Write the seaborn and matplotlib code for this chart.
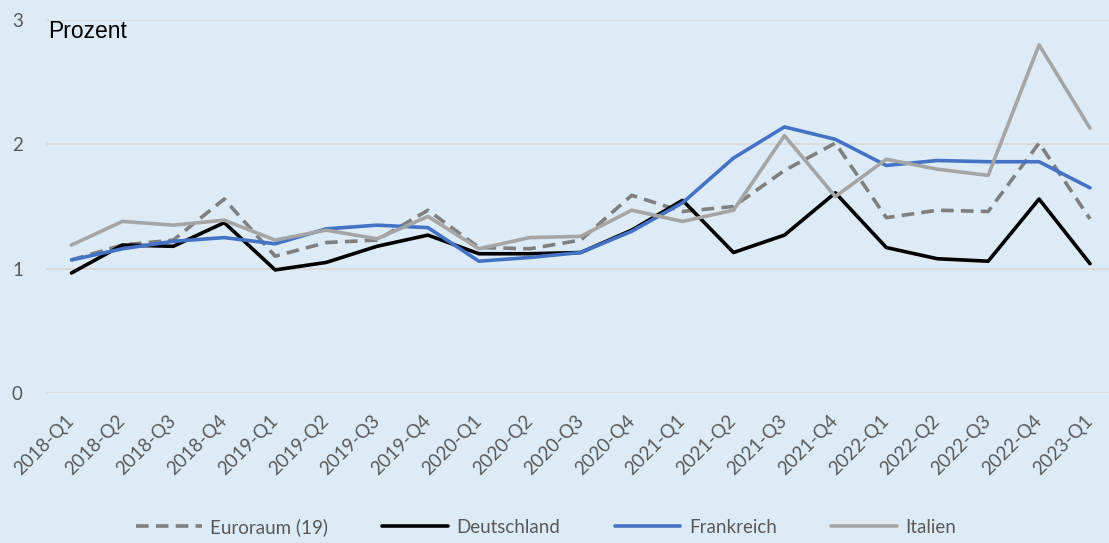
import numpy as np
import pandas as pd
import matplotlib
matplotlib.use("Agg")
import matplotlib.pyplot as plt
import seaborn as sns

# quarters on the x axis
quarters = ["2018-Q1", "2018-Q2", "2018-Q3", "2018-Q4",
            "2019-Q1", "2019-Q2", "2019-Q3", "2019-Q4",
            "2020-Q1", "2020-Q2", "2020-Q3", "2020-Q4",
            "2021-Q1", "2021-Q2", "2021-Q3", "2021-Q4",
            "2022-Q1", "2022-Q2", "2022-Q3", "2022-Q4",
            "2023-Q1"]

# values in percent
euroraum = [1.07, 1.19, 1.23, 1.56, 1.10, 1.21, 1.23, 1.47, 1.17, 1.16, 1.23,
            1.59, 1.46, 1.50, 1.79, 2.01, 1.41, 1.47, 1.46, 2.01, 1.40]
deutschland = [0.965, 1.19, 1.18, 1.37, 0.99, 1.05, 1.18, 1.27, 1.12, 1.12, 1.13,
               1.31, 1.55, 1.13, 1.27, 1.61, 1.17, 1.08, 1.06, 1.56, 1.04]
frankreich = [1.07, 1.16, 1.22, 1.25, 1.20, 1.32, 1.35, 1.33, 1.06, 1.09, 1.13,
              1.30, 1.53, 1.89, 2.14, 2.04, 1.83, 1.87, 1.86, 1.86, 1.65]
italien = [1.19, 1.38, 1.35, 1.39, 1.23, 1.31, 1.24, 1.42, 1.16, 1.25, 1.26,
           1.47, 1.38, 1.47, 2.07, 1.58, 1.88, 1.80, 1.75, 2.80, 2.13]

series_names = ["Euroraum (19)", "Deutschland", "Frankreich", "Italien"]
series_vals = [euroraum, deutschland, frankreich, italien]
colors = ["#7F7F7F", "#000000", "#4472C4", "#A5A5A5"]

bg = "#DDEBF7"
txt = "#595959"

sns.set_style("white")
plt.rcParams["font.family"] = ["Lato", "DejaVu Sans"]

fig = plt.figure(figsize=(11.09, 5.43), dpi=100)
fig.patch.set_facecolor(bg)
ax = fig.add_axes([46 / 1109, 150 / 543, (1109 - 46) / 1109, 373 / 543])
ax.set_facecolor(bg)

x = np.arange(len(quarters))
for name, vals, col in zip(series_names, series_vals, colors):
    sns.lineplot(x=x, y=vals, ax=ax, color=col, lw=2.6, label=name)
    if name == "Euroraum (19)":
        ax.lines[-1].set_dashes([3.5, 2.0])

ax.set_xlim(-0.5, (1109 - 71) / ((1090 - 71) / 20))
ax.set_ylim(0, 3)
ax.set_yticks([0, 1, 2, 3])
ax.grid(axis="y", color="#D9D9D9", lw=1.3)
ax.set_axisbelow(True)
for s in ax.spines.values():
    s.set_visible(False)

ax.set_xticks(x)
ax.set_xticklabels(quarters, rotation=45, ha="right", va="center",
                   rotation_mode="anchor", color=txt, fontsize=13.5)
ax.tick_params(axis="x", length=0, pad=18)
ax.tick_params(axis="y", length=0, pad=24.5, labelcolor=txt, labelsize=13.5)
for t in ax.get_yticklabels():
    t.set_ha("left")

fig.text(48 / 1109, 1 - 31 / 543, "Prozent", fontsize=16.5, color="black",
         va="center", ha="left", family=["Liberation Sans", "DejaVu Sans"])

ax.set_xlabel("")
ax.set_ylabel("")
leg = ax.legend(loc="center", bbox_to_anchor=(546 / 1109, 16 / 543), bbox_transform=fig.transFigure,
                ncol=4, frameon=False, handlelength=3.5, handletextpad=0.45,
                columnspacing=2.9, fontsize=13.5, labelcolor=txt)

fig.savefig("out.png", dpi=100, facecolor=bg)
